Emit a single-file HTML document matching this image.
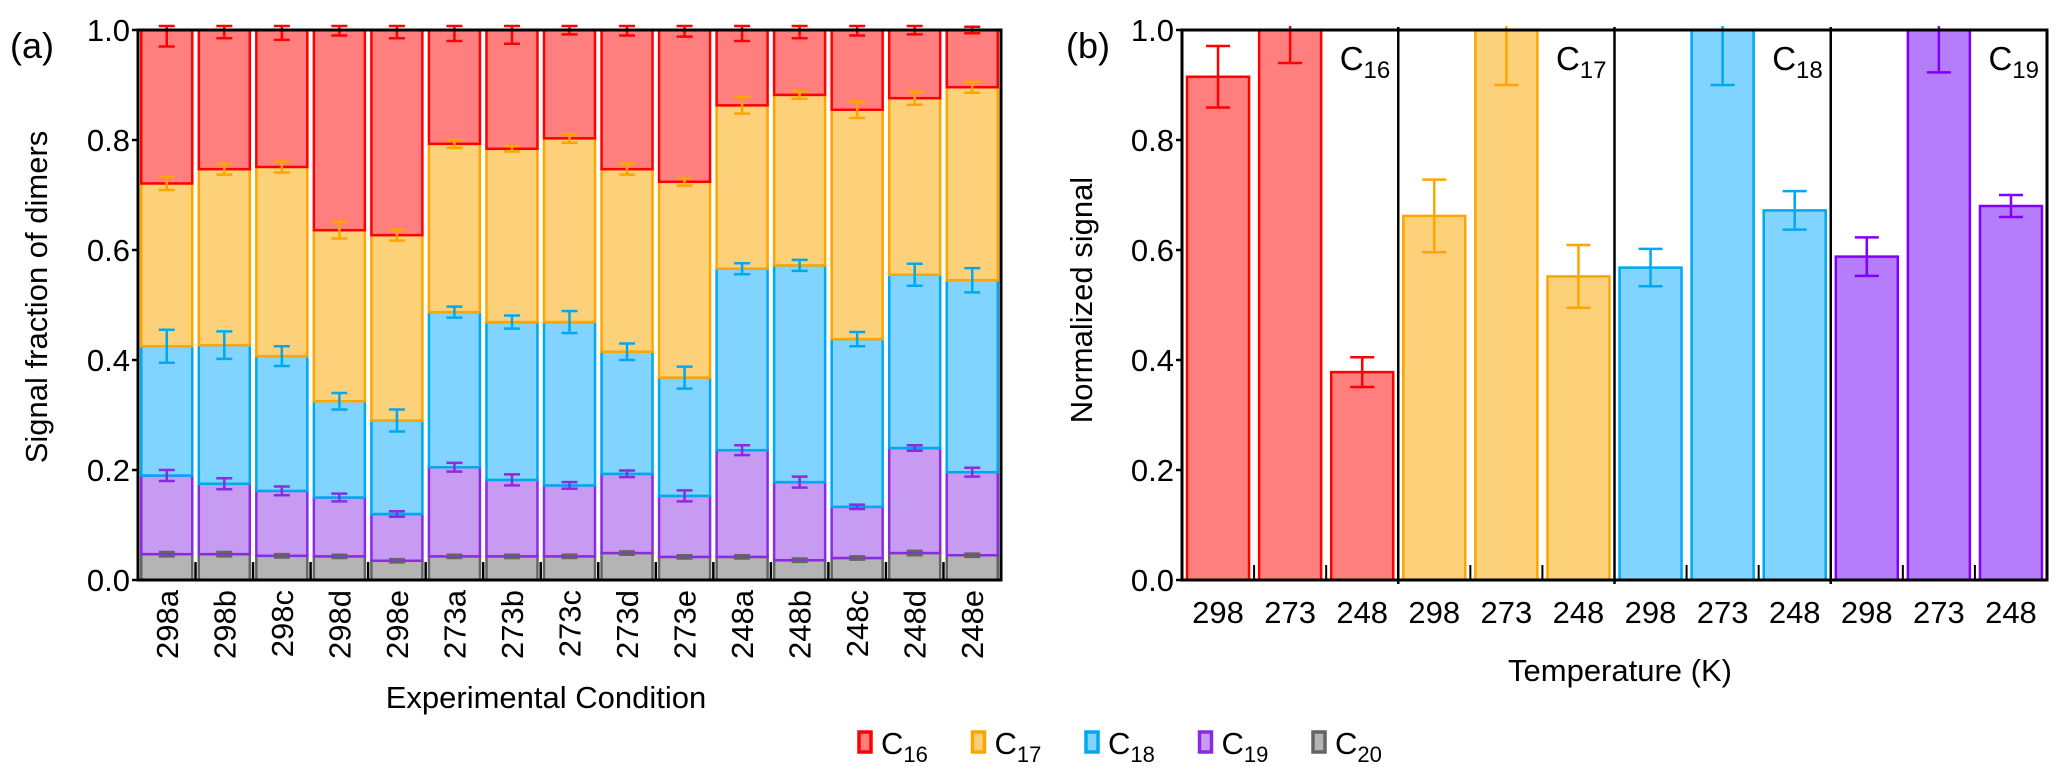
<!DOCTYPE html>
<html><head><meta charset="utf-8"><style>
html,body{margin:0;padding:0;background:#fff;}
svg{display:block;font-family:"Liberation Sans",Arial,sans-serif;}
</style></head><body>
<svg id="chart" width="2067" height="778" viewBox="0 0 2067 778" xmlns="http://www.w3.org/2000/svg">
<g id="left"></g>
<g id="right"></g>
<g id="legend"></g>
</svg>
<script>
// ---- Panel (a) data ----
const conditions = ["298a","298b","298c","298d","298e","273a","273b","273c","273d","273e","248a","248b","248c","248d","248e"];
const c20 = [0.047,0.047,0.044,0.043,0.035,0.043,0.043,0.043,0.049,0.042,0.042,0.036,0.040,0.049,0.045];
const c19 = [0.143,0.128,0.118,0.107,0.085,0.162,0.139,0.129,0.144,0.111,0.194,0.142,0.093,0.191,0.151];
const c18 = [0.235,0.252,0.245,0.175,0.170,0.282,0.287,0.297,0.222,0.215,0.330,0.394,0.305,0.315,0.349];
const c17 = [0.296,0.320,0.344,0.311,0.337,0.306,0.315,0.334,0.332,0.356,0.297,0.310,0.417,0.321,0.351];
const c16 = [0.279,0.253,0.249,0.364,0.373,0.207,0.216,0.197,0.253,0.276,0.137,0.118,0.145,0.124,0.104];
const err20 = [0.004,0.004,0.003,0.003,0.003,0.003,0.003,0.003,0.003,0.003,0.003,0.003,0.003,0.004,0.003];
const err19 = [0.010,0.010,0.008,0.007,0.005,0.008,0.010,0.006,0.006,0.010,0.009,0.010,0.004,0.005,0.008];
const err18 = [0.030,0.025,0.018,0.015,0.020,0.010,0.012,0.020,0.015,0.020,0.010,0.010,0.013,0.020,0.022];
const err17 = [0.012,0.010,0.010,0.015,0.010,0.007,0.005,0.008,0.010,0.007,0.015,0.007,0.015,0.012,0.010];
const err16 = [0.030,0.015,0.018,0.010,0.015,0.020,0.025,0.008,0.010,0.012,0.020,0.015,0.010,0.008,0.006];
const yTicksA = ["0.0","0.2","0.4","0.6","0.8","1.0"];
// ---- Panel (b) data ----
const temps = ["298","273","248"];
const groups = ["16","17","18","19"];
const normC16 = [0.915,1.0,0.378];
const normC17 = [0.662,1.0,0.552];
const normC18 = [0.568,1.0,0.672];
const normC19 = [0.588,1.0,0.680];
const normErrC16 = [0.056,0.06,0.027];
const normErrC17 = [0.066,0.10,0.057];
const normErrC18 = [0.034,0.10,0.035];
const normErrC19 = [0.035,0.077,0.020];

const NS="http://www.w3.org/2000/svg";
function mk(parent,tag,attrs,text){const e=document.createElementNS(NS,tag);for(const k in attrs)e.setAttribute(k,attrs[k]);if(text!==undefined)e.textContent=text;parent.appendChild(e);return e;}

const styles = {
 c16:{fill:"#ff7f7f",stroke:"#ff0000"},
 c17:{fill:"#fdd07a",stroke:"#ffa500"},
 c18:{fill:"#80d4ff",stroke:"#00a8f0"},
 c19:{fill:"#c89bf2",stroke:"#8a2be2"},
 c20:{fill:"#b4b4b4",stroke:"#646464"}
};

// ---------- Panel A ----------
const L = document.getElementById('left');
const AX0=138, AX1=1001, AY0=580, AY1=30;
function ya(v){return AY0-(AY1-AY0)*-v;}
function yA(v){return AY0-(AY0-AY1)*v;}
const pitchA=(AX1-AX0)/conditions.length, bwA=51;
const seriesA=[["c20",c20,err20],["c19",c19,err19],["c18",c18,err18],["c17",c17,err17],["c16",c16,err16]];
conditions.forEach((c,i)=>{
  const x=AX0+pitchA*i+(pitchA-bwA)/2;
  let base=0;
  const tops=[];
  seriesA.forEach(([nm,vals,errs])=>{
    const v=vals[i];
    const st=styles[nm];
    const r=mk(L,'rect',{x:x,y:yA(base+v),width:bwA,height:yA(base)-yA(base+v),fill:st.fill,stroke:st.stroke,'stroke-width':2.5});
    
    
    base+=v;
    tops.push([nm,base,errs[i]]);
  });
  tops.forEach(([nm,t,e])=>{
    const cx=x+bwA/2;
    let yt=Math.max(yA(t+e),26), yb=yA(t-e);
    const g=mk(L,'g',{stroke:styles[nm].stroke,'stroke-width':2.5});
    
    
    mk(g,'line',{x1:cx,x2:cx,y1:yt,y2:yb});
    mk(g,'line',{x1:cx-8,x2:cx+8,y1:yt,y2:yt});
    mk(g,'line',{x1:cx-8,x2:cx+8,y1:yb,y2:yb});
  });
  const tl=mk(L,'text',{x:0,y:0,transform:`translate(${AX0+pitchA*(i+0.5)+11},590) rotate(-90)`,'text-anchor':'end','font-size':31,fill:'#000'},c);
  
  
  if(i>0){const tk=mk(L,'line',{x1:AX0+pitchA*i,x2:AX0+pitchA*i,y1:AY0,y2:AY0-18,stroke:'#000','stroke-width':2.5});
    }
});
const frameA=mk(L,'rect',{x:AX0,y:AY1,width:AX1-AX0,height:AY0-AY1,fill:'none',stroke:'#000','stroke-width':3});

yTicksA.forEach((t,i)=>{
  const v=i*0.2;
  const tk=mk(L,'line',{x1:AX0-6,x2:AX0,y1:yA(v),y2:yA(v),stroke:'#000','stroke-width':2.5});
  
  const tx=mk(L,'text',{x:AX0-8,y:yA(v)+11,'text-anchor':'end','font-size':31},t);
  
});
let t=mk(L,'text',{x:0,y:0,transform:'translate(47,297) rotate(-90)','text-anchor':'middle','font-size':31},"Signal fraction of dimers");

t=mk(L,'text',{x:546,y:708,'text-anchor':'middle','font-size':31},"Experimental Condition");

t=mk(L,'text',{x:10,y:58,'font-size':36},"(a)");


// ---------- Panel B ----------
const R=document.getElementById('right');
const BX0=1182, BX1=2047, BY0=580, BY1=30;
function yB(v){return BY0-(BY0-BY1)*v;}
const normVals=[normC16,normC17,normC18,normC19];
const normErrs=[normErrC16,normErrC17,normErrC18,normErrC19];
const bStyles=[styles.c16,styles.c17,styles.c18,{fill:"#b57cfb",stroke:"#7f00ff"}];
const nBars=groups.length*temps.length;
const pitchB=(BX1-BX0)/nBars, bwB=62;
groups.forEach((g,gi)=>{
  temps.forEach((tp,ti)=>{
    const k=gi*temps.length+ti;
    const x=BX0+pitchB*k+(pitchB-bwB)/2;
    const v=normVals[gi][ti], e=normErrs[gi][ti];
    const st=bStyles[gi];
    const r=mk(R,'rect',{x:x,y:yB(v),width:bwB,height:yB(0)-yB(v),fill:st.fill,stroke:st.stroke,'stroke-width':2.5});
    
    
    const cx=x+bwB/2, yt=Math.max(yB(v+e),26), yb=yB(v-e);
    const eg=mk(R,'g',{stroke:st.stroke,'stroke-width':2.5});
    
    
    mk(eg,'line',{x1:cx,x2:cx,y1:yt,y2:yb});
    if(yB(v+e)>=26)mk(eg,'line',{x1:cx-12,x2:cx+12,y1:yt,y2:yt});
    mk(eg,'line',{x1:cx-12,x2:cx+12,y1:yb,y2:yb});
    const tl=mk(R,'text',{x:BX0+pitchB*(k+0.5),y:623,'text-anchor':'middle','font-size':31},tp);
    
    if(ti>0){const tk=mk(R,'line',{x1:BX0+pitchB*k,x2:BX0+pitchB*k,y1:BY0,y2:BY0-15,stroke:'#000','stroke-width':2});
      }
  });
  const gx=BX0+pitchB*temps.length*(gi+1);
  if(gi<groups.length-1){const d=mk(R,'line',{x1:gx,x2:gx,y1:BY1-3,y2:BY0+4,stroke:'#000','stroke-width':2.5});
    }
  const gl=mk(R,'text',{x:gx-8,y:70,'text-anchor':'end','font-size':33});
  
  mk(gl,'tspan',{},"C");
  mk(gl,'tspan',{'font-size':24,dy:8},g);
});
const frameB=mk(R,'rect',{x:BX0,y:BY1,width:BX1-BX0,height:BY0-BY1,fill:'none',stroke:'#000','stroke-width':3});

yTicksA.forEach((tt,i)=>{
  const v=i*0.2;
  const tk=mk(R,'line',{x1:BX0-6,x2:BX0,y1:yB(v),y2:yB(v),stroke:'#000','stroke-width':2.5});
  
  const tx=mk(R,'text',{x:BX0-8,y:yB(v)+11,'text-anchor':'end','font-size':31},tt);
  
});
t=mk(R,'text',{x:0,y:0,transform:'translate(1092,300) rotate(-90)','text-anchor':'middle','font-size':31},"Normalized signal");

t=mk(R,'text',{x:1620,y:681,'text-anchor':'middle','font-size':31},"Temperature (K)");

t=mk(R,'text',{x:1066,y:58,'font-size':36},"(b)");


// ---------- Legend ----------
const LG=document.getElementById('legend');
const legendNames=["16","17","18","19","20"];
const legendKeys=["c16","c17","c18","c19","c20"];
legendNames.forEach((n,i)=>{
  const x=865+113.5*i;
  const st=styles[legendKeys[i]];
  const g=mk(LG,'g',{});
  
  
  mk(g,'rect',{x:x-6,y:732,width:12,height:20,fill:st.fill,stroke:st.stroke,'stroke-width':3.5});
  const tx=mk(g,'text',{x:x+16,y:754,'font-size':31});
  mk(tx,'tspan',{},"C");
  mk(tx,'tspan',{'font-size':22,dy:8},n);
});
</script>
</body></html>
